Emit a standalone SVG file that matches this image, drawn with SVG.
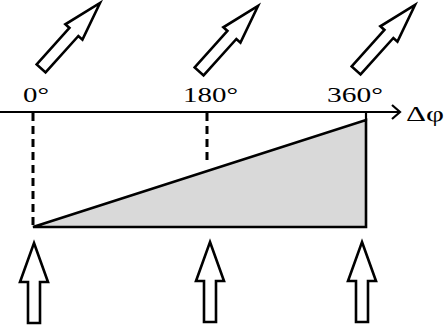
<svg xmlns="http://www.w3.org/2000/svg" width="445" height="326" viewBox="0 0 445 326">
<style>
.arr{fill:#fff;stroke:#000;stroke-width:2.6;stroke-linejoin:miter}
.dash{stroke:#000;stroke-width:3;stroke-dasharray:8 5;fill:none}
.ln{stroke:#000;stroke-width:2.2;fill:none}
text{font-family:"Liberation Serif","DejaVu Serif","Times New Roman",serif;fill:#000}
</style>
<defs>
<path id="tilt" d="M0,0 L11.5,39 L6,39 L6,88 L-6,88 L-6,39 L-11.5,39 Z"/>
<path id="up" d="M0,0 L14,39 L6,39 L6,80 L-6,80 L-6,39 L-14,39 Z"/>
</defs>
<rect width="445" height="326" fill="#fff"/>
<g id="connectors">
<line class="ln" x1="0" y1="112" x2="400" y2="112"/>
<polyline class="ln" points="392,105 400,112 392,119"/>
<line class="dash" x1="33" y1="113" x2="33" y2="227"/>
<line class="dash" x1="207" y1="113" x2="207" y2="164"/>
<line class="ln" x1="366" y1="112" x2="366" y2="121"/>
</g>
<g id="ramp">
<polygon points="33,227 366,120 366,227" fill="#d9d9d9" stroke="#000" stroke-width="2.6" stroke-linejoin="miter"/>
</g>
<g id="labels">
<text x="23" y="102" font-size="22" textLength="26" lengthAdjust="spacingAndGlyphs">0°</text>
<text x="183" y="102" font-size="22" textLength="55" lengthAdjust="spacingAndGlyphs">180°</text>
<text x="327" y="102" font-size="22" textLength="56" lengthAdjust="spacingAndGlyphs">360°</text>
<text x="406" y="121" font-size="20" textLength="38" lengthAdjust="spacingAndGlyphs">Δφ</text>
</g>
<g id="top-arrow-1"><use href="#tilt" class="arr" transform="translate(100,3) rotate(42)"/></g>
<g id="top-arrow-2"><use href="#tilt" class="arr" transform="translate(258,6) rotate(42)"/></g>
<g id="top-arrow-3"><use href="#tilt" class="arr" transform="translate(415,5) rotate(42)"/></g>
<g id="bottom-arrow-1"><use href="#up" class="arr" transform="translate(34,243)"/></g>
<g id="bottom-arrow-2"><use href="#up" class="arr" transform="translate(210,242)"/></g>
<g id="bottom-arrow-3"><use href="#up" class="arr" transform="translate(362,242)"/></g>
</svg>
